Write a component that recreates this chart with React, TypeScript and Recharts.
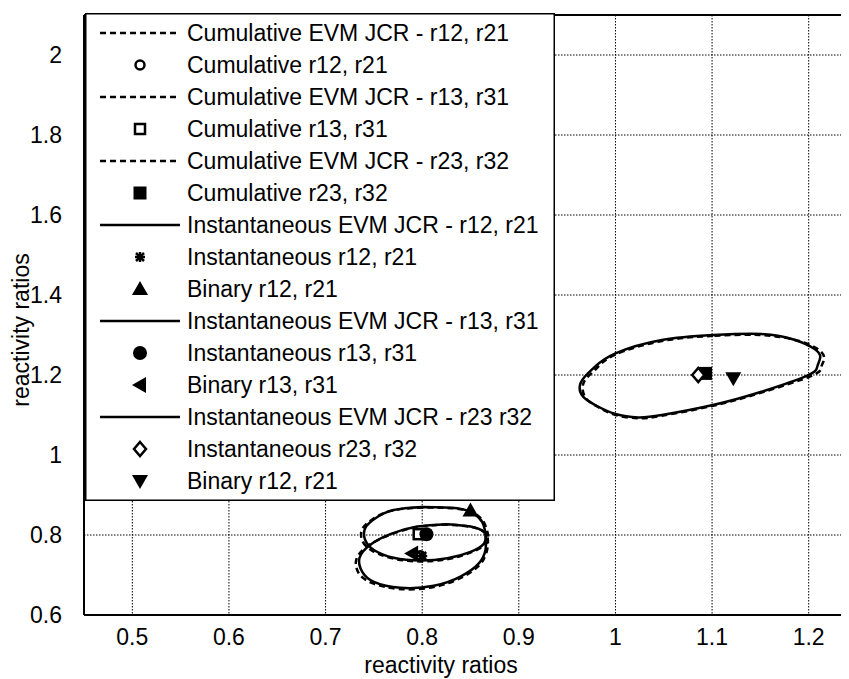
import React from 'react';
import { ComposedChart, Line, Scatter, XAxis, YAxis, CartesianGrid, ReferenceLine, Legend } from 'recharts';

const FONT = '"Liberation Sans", Arial, sans-serif';

const xTicks = [0.5, 0.6, 0.7, 0.8, 0.9, 1, 1.1, 1.2];
const yTicks = [0.6, 0.8, 1, 1.2, 1.4, 1.6, 1.8, 2];

type P = [number, number];

// joint confidence regions (x, y), each loop starts at its top
const cumJcrR12: P[] = [
    [0.826, 0.826], [0.795, 0.820], [0.766, 0.800], [0.744, 0.773], [0.732, 0.740], [0.734, 0.706],
    [0.747, 0.681], [0.776, 0.665], [0.812, 0.670], [0.841, 0.694], [0.860, 0.727], [0.867, 0.761],
    [0.868, 0.786], [0.865, 0.806], [0.851, 0.820], [0.826, 0.826],
];
const cumJcrR13: P[] = [
    [0.801, 0.869], [0.769, 0.861], [0.749, 0.840], [0.738, 0.815], [0.738, 0.786], [0.748, 0.761],
    [0.770, 0.741], [0.798, 0.734], [0.827, 0.740], [0.851, 0.757], [0.866, 0.778], [0.868, 0.802],
    [0.864, 0.831], [0.855, 0.853], [0.836, 0.866], [0.801, 0.869],
];
const cumJcrR23: P[] = [
    [1.101, 1.298], [1.048, 1.285], [1.0, 1.251], [0.981, 1.218], [0.970, 1.192], [0.966, 1.168],
    [0.970, 1.140], [0.982, 1.120], [1.0, 1.100], [1.0235, 1.092], [1.048, 1.098], [1.101, 1.123],
    [1.151, 1.156], [1.203, 1.198], [1.213, 1.220], [1.216, 1.240], [1.211, 1.262], [1.190, 1.285],
    [1.151, 1.300], [1.101, 1.298],
];
const instJcrR12: P[] = [
    [0.826, 0.827], [0.795, 0.821], [0.767, 0.802], [0.746, 0.775], [0.735, 0.742], [0.738, 0.708],
    [0.750, 0.683], [0.7775, 0.668], [0.812, 0.673], [0.8396, 0.696], [0.8586, 0.729], [0.8655, 0.7625],
    [0.866, 0.7875], [0.864, 0.807], [0.850, 0.821], [0.826, 0.827],
];
const instJcrR13: P[] = [
    [0.801, 0.870], [0.7705, 0.8625], [0.7516, 0.842], [0.741, 0.817], [0.741, 0.7875], [0.750, 0.7625],
    [0.7705, 0.743], [0.798, 0.736], [0.826, 0.7417], [0.850, 0.758], [0.864, 0.779], [0.8655, 0.804],
    [0.862, 0.833], [0.853, 0.854], [0.836, 0.867], [0.801, 0.870],
];
const instJcrR23: P[] = [
    [1.101, 1.30], [1.048, 1.2875], [1.0, 1.254], [0.979, 1.221], [0.968, 1.195], [0.963, 1.171],
    [0.9665, 1.146], [0.979, 1.125], [1.0, 1.1025], [1.0235, 1.094], [1.048, 1.10], [1.101, 1.125],
    [1.151, 1.158], [1.199, 1.199], [1.209, 1.222], [1.212, 1.245], [1.206, 1.265], [1.186, 1.2875],
    [1.151, 1.3025], [1.101, 1.30],
];

// point estimates
const cumR12: P[] = [[0.798, 0.748]];
const cumR13: P[] = [[0.7964, 0.802]];
const cumR23: P[] = [[1.0933, 1.204]];
const instR12: P[] = [[0.800, 0.7475]];
const binR12: P[] = [[0.850, 0.861]];
const instR13: P[] = [[0.8044, 0.802]];
const binR13: P[] = [[0.7896, 0.754]];
const instR23: P[] = [[1.0857, 1.200]];
const binR12b: P[] = [[1.122, 1.192]];

const toXY = (pts: P[]) => pts.map(([x, y]) => ({ x, y }));

type Kind =
    | 'dashed' | 'solid' | 'openCircle' | 'openSquare' | 'filledSquare' | 'asterisk'
    | 'triUp' | 'filledCircle' | 'triLeft' | 'openDiamond' | 'triDown';

const legendItems: { label: string; kind: Kind }[] = [
    { label: 'Cumulative EVM JCR - r12, r21', kind: 'dashed' },
    { label: 'Cumulative r12, r21', kind: 'openCircle' },
    { label: 'Cumulative EVM JCR - r13, r31', kind: 'dashed' },
    { label: 'Cumulative r13, r31', kind: 'openSquare' },
    { label: 'Cumulative EVM JCR - r23, r32', kind: 'dashed' },
    { label: 'Cumulative r23, r32', kind: 'filledSquare' },
    { label: 'Instantaneous EVM JCR - r12, r21', kind: 'solid' },
    { label: 'Instantaneous r12, r21', kind: 'asterisk' },
    { label: 'Binary r12, r21', kind: 'triUp' },
    { label: 'Instantaneous EVM JCR - r13, r31', kind: 'solid' },
    { label: 'Instantaneous r13, r31', kind: 'filledCircle' },
    { label: 'Binary r13, r31', kind: 'triLeft' },
    { label: 'Instantaneous EVM JCR - r23 r32', kind: 'solid' },
    { label: 'Instantaneous r23, r32', kind: 'openDiamond' },
    { label: 'Binary r12, r21', kind: 'triDown' },
];

const Marker = ({ kind, cx, cy }: { kind: Kind; cx: number; cy: number }) => {
    const k = { stroke: '#000', strokeWidth: 2.5 };
    switch (kind) {
        case 'openCircle':
            return <circle cx={cx} cy={cy} r={4.5} fill="#fff" {...k} />;
        case 'openSquare':
            return <rect x={cx - 5} y={cy - 5} width={10} height={10} fill="#fff" {...k} />;
        case 'filledSquare':
            return <rect x={cx - 6.5} y={cy - 6.5} width={13} height={13} fill="#000" />;
        case 'asterisk':
            return (
                <g stroke="#000" strokeWidth={2.5}>
                    <line x1={cx - 5} y1={cy} x2={cx + 5} y2={cy} />
                    <line x1={cx} y1={cy - 5} x2={cx} y2={cy + 5} />
                    <line x1={cx - 4} y1={cy - 4} x2={cx + 4} y2={cy + 4} />
                    <line x1={cx - 4} y1={cy + 4} x2={cx + 4} y2={cy - 4} />
                </g>
            );
        case 'triUp':
            return <polygon points={`${cx},${cy - 8} ${cx + 8},${cy + 6} ${cx - 8},${cy + 6}`} fill="#000" />;
        case 'filledCircle':
            return <circle cx={cx} cy={cy} r={7} fill="#000" />;
        case 'triLeft':
            return <polygon points={`${cx - 8},${cy} ${cx + 6},${cy - 8} ${cx + 6},${cy + 8}`} fill="#000" />;
        case 'openDiamond':
            return <polygon points={`${cx},${cy - 7} ${cx + 6},${cy} ${cx},${cy + 7} ${cx - 6},${cy}`} fill="#fff" {...k} />;
        case 'triDown':
            return <polygon points={`${cx - 8},${cy - 6} ${cx + 8},${cy - 6} ${cx},${cy + 8}`} fill="#000" />;
        default:
            return null;
    }
};

const LegendBox = () => (
    <svg width={470} height={488} style={{ display: 'block' }}>
        <rect x={0.75} y={0.75} width={468.5} height={486.5} fill="#fff" stroke="#000" strokeWidth={1.5} />
        {legendItems.map((it, i) => {
            const y = 20 + i * 32;
            return (
                <g key={i}>
                    {it.kind === 'dashed' || it.kind === 'solid' ? (
                        <line x1={15} y1={y} x2={95} y2={y} stroke="#000" strokeWidth={2.5}
                            strokeDasharray={it.kind === 'dashed' ? '6 4' : undefined} />
                    ) : (
                        <Marker kind={it.kind} cx={55} cy={y} />
                    )}
                    <text x={102} y={y} dominantBaseline="central" fontSize={23} fontFamily={FONT} fill="#000">
                        {it.label}
                    </text>
                </g>
            );
        })}
    </svg>
);

const XLabel = () => (
    <text x={433} y={657} textAnchor="middle" dominantBaseline="central" fontSize={23} fontFamily={FONT} fill="#000">
        reactivity ratios
    </text>
);

const YLabel = () => (
    <text x={13} y={322} transform="rotate(-90 13 322)" textAnchor="middle" dominantBaseline="central"
        fontSize={23} fontFamily={FONT} fill="#000">
        reactivity ratios
    </text>
);

const ellipses: { pts: P[]; dashed: boolean }[] = [
    { pts: cumJcrR12, dashed: true },
    { pts: cumJcrR13, dashed: true },
    { pts: cumJcrR23, dashed: true },
    { pts: instJcrR12, dashed: false },
    { pts: instJcrR13, dashed: false },
    { pts: instJcrR23, dashed: false },
];

const points: { pts: P[]; kind: Kind }[] = [
    { pts: cumR12, kind: 'openCircle' },
    { pts: cumR13, kind: 'openSquare' },
    { pts: cumR23, kind: 'filledSquare' },
    { pts: instR12, kind: 'asterisk' },
    { pts: binR12, kind: 'triUp' },
    { pts: instR13, kind: 'filledCircle' },
    { pts: binR13, kind: 'triLeft' },
    { pts: instR23, kind: 'openDiamond' },
    { pts: binR12b, kind: 'triDown' },
];

export default function App() {
    const tick = { fill: '#000', fontSize: 23, fontFamily: FONT };
    return (
        <div style={{ width: 841, height: 671, overflow: 'hidden' }}>
            <ComposedChart width={860} height={671} margin={{ top: 7, right: 11, bottom: 0, left: 0 }}>
                <CartesianGrid stroke="#000" strokeDasharray="1.5 1.5" strokeWidth={1} />
                <XAxis type="number" dataKey="x" domain={[0.45, 1.25]} ticks={xTicks} allowDataOverflow
                    height={64} tickLine={false} tickSize={6} tickMargin={8} tick={tick}
                    axisLine={{ stroke: '#000', strokeWidth: 2 }} label={<XLabel />} />
                <YAxis type="number" dataKey="y" domain={[0.6, 2.1]} ticks={yTicks} allowDataOverflow
                    width={76} tickLine={false} tickSize={6} tickMargin={16} tick={tick}
                    axisLine={{ stroke: '#000', strokeWidth: 2 }} label={<YLabel />} />
                <ReferenceLine y={2.1} stroke="#000" strokeWidth={2} />
                <ReferenceLine x={1.25} stroke="#000" strokeWidth={2} />
                {ellipses.map((e, i) => (
                    <Line key={`e${i}`} data={toXY(e.pts)} dataKey="y" type="natural" stroke="#000"
                        strokeWidth={2.5} strokeDasharray={e.dashed ? '6 4' : undefined}
                        dot={false} activeDot={false} isAnimationActive={false} legendType="none" />
                ))}
                {points.map((p, i) => (
                    <Scatter key={`p${i}`} data={toXY(p.pts)} isAnimationActive={false} legendType="none"
                        shape={(s: any) => <Marker kind={p.kind} cx={s.cx} cy={s.cy} />} />
                ))}
                <Legend layout="vertical" align="center" verticalAlign="middle"
                    wrapperStyle={{ left: 77, top: 5, width: 470, height: 488 }}
                    content={() => <LegendBox />} />
            </ComposedChart>
        </div>
    );
}
